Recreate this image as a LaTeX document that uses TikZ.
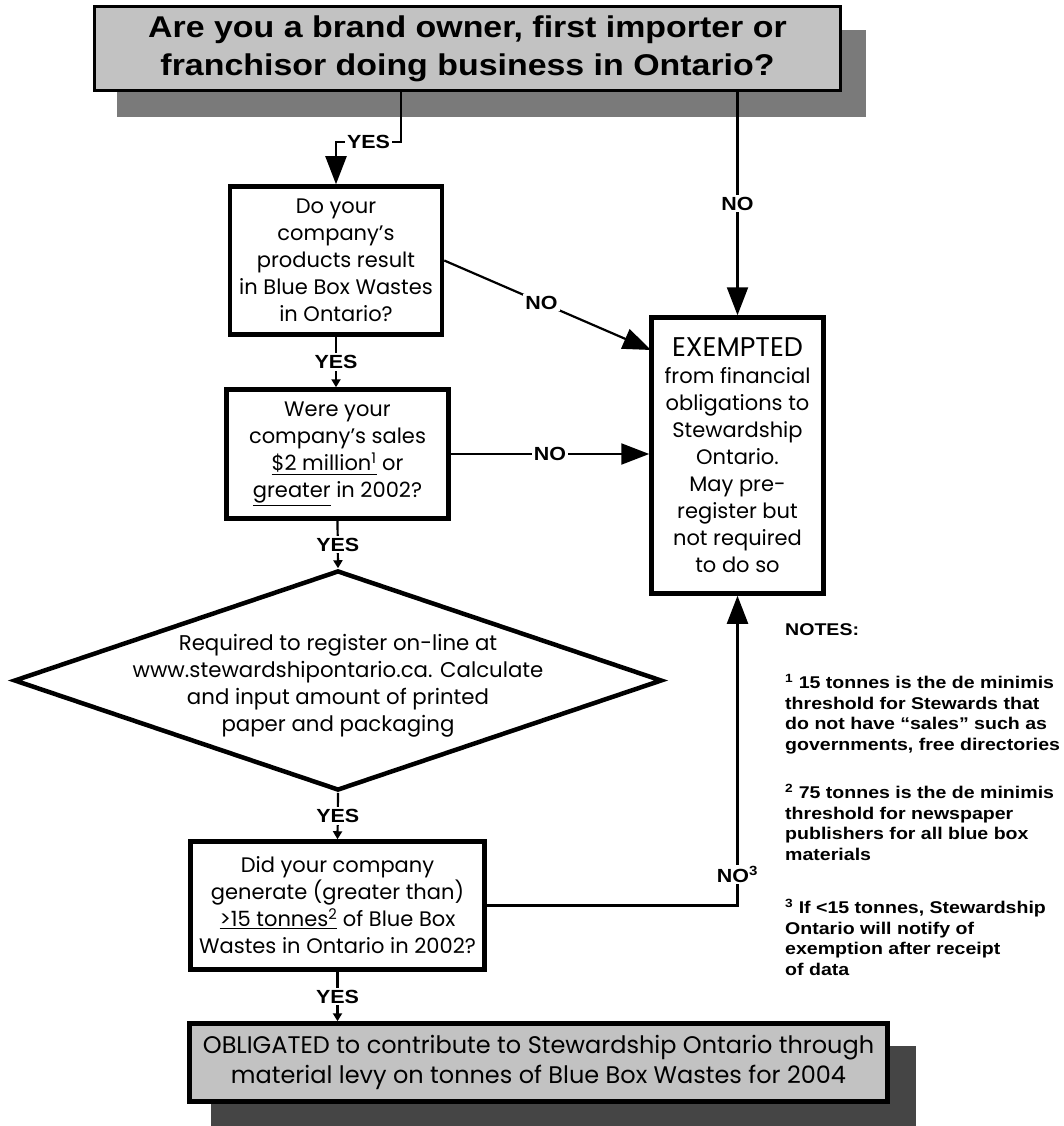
\documentclass[tikz,border=0pt]{standalone}
\usepackage{fontspec}
\usetikzlibrary{arrows.meta,shapes.geometric}
\newfontfamily\cg{Poppins}
\newfontfamily\ar{Liberation Sans}[FakeStretch=1.13]
\newfontfamily\arn{Liberation Sans}[FakeStretch=1.15]
\definecolor{boxgray}{gray}{0.76}
\definecolor{shadowA}{gray}{0.48}
\definecolor{shadowB}{gray}{0.27}
\begin{document}
\begin{tikzpicture}[x=1pt,y=-1pt,
  qbox/.style={draw, line width=4.5pt, fill=white, inner sep=0pt, align=center,
    font=\cg\fontsize{21}{27}\selectfont},
  grbox/.style={draw, fill=boxgray, inner sep=0pt, align=center},
  conn/.style={line width=2.2pt},
  arr/.style={conn, -{Triangle[length=28pt,width=21pt]}},
  stub/.style={conn, -{Triangle[length=8pt,width=9pt]}},
  lbl/.style={fill=white, inner sep=2pt, font=\ar\bfseries\fontsize{19}{20}\selectfont},
  note/.style={inner sep=0pt, anchor=north west, align=left,
    font=\arn\bfseries\fontsize{17}{20.5}\selectfont}]
\useasboundingbox (0,0) rectangle (1064,1126);
% shadows
\fill[shadowA] (117,30) rectangle (866,117);
\fill[shadowB] (211,1046) rectangle (916,1126);
% top question
\node[grbox, line width=3pt, minimum width=746pt, minimum height=84pt,
  font=\ar\bfseries\fontsize{30}{38}\selectfont] (top) at (467.5,48.5)
  {Are you a brand owner, first importer or\\franchisor doing business in Ontario?};
% question boxes
\node[qbox, minimum width=212pt, minimum height=148pt] (box1) at (336,260.5)
  {Do your\\company’s\\products result\\in Blue Box Wastes\\in Ontario?};
\node[qbox, minimum width=222pt, minimum height=129pt] (box2) at (337.5,454)
  {Were your\\company’s sales\\\underline{\$2 million\textsuperscript{1}} or\\\underline{greater} in 2002?};
\node[diamond, draw, line width=4.5pt, fill=white, inner sep=0pt,
  minimum width=648pt, minimum height=220pt] (dia) at (338,680.5) {};
\node[inner sep=0pt, align=center, font=\cg\fontsize{21.3}{27}\selectfont] (diatext) at (338,686)
  {Required to register on-line at\\www.stewardshipontario.ca. Calculate\\and input amount of printed\\paper and packaging};
\node[qbox, minimum width=294pt, minimum height=128pt] (box3) at (337.5,905.5)
  {Did your company\\generate (greater than)\\\underline{>15 tonnes\textsuperscript{2}} of Blue Box\\Wastes in Ontario in 2002?};
% exempted
\node[qbox, minimum width=172pt, minimum height=276pt] (exm) at (737.5,455.5)
  {{\fontsize{27}{30}\selectfont EXEMPTED}\\from financial\\obligations to\\Stewardship\\Ontario.\\May pre-\\register but\\not required\\to do so};
% obligated
\node[grbox, line width=4.5pt, minimum width=698pt, minimum height=78pt,
  font=\cg\fontsize{24}{30}\selectfont] (obl) at (538.5,1062.5)
  {OBLIGATED to contribute to Stewardship Ontario through\\material levy on tonnes of Blue Box Wastes for 2004};
% notes
\node[note] (nh) at (785,623) {NOTES:};
\node[note] (n1) at (785,674) {\textsuperscript{1} 15 tonnes is the de minimis\\threshold for Stewards that\\do not have “sales” such as\\governments, free directories};
\node[note] (n2) at (785,784) {\textsuperscript{2} 75 tonnes is the de minimis\\threshold for newspaper\\publishers for all blue box\\materials};
\node[note] (n3) at (785,899) {\textsuperscript{3} If <15 tonnes, Stewardship\\Ontario will notify of\\exemption after receipt\\of data};
% connectors
\coordinate (yb) at (401,142);
\coordinate (e1) at (651,350);
\draw[arr] (top.south -| yb) -- (yb) -- node[lbl]{YES} (yb -| box1.north) -- (box1.north);
\draw[arr] (top.south -| exm.north) -- node[lbl]{NO} (exm.north);
\draw[arr] (box1.east) -- node[lbl, pos=0.47]{NO} (e1);
\draw[arr] (box2.east) -- node[lbl]{NO} (exm.west |- box2.east);
\draw[arr] (box3.east) -- (exm.south |- box3.east) -- node[lbl, pos=0.1]{NO\textsuperscript{3}} (exm.south);
\draw[stub] (box1.south) -- node[lbl]{YES} (box1.south |- box2.north);
\draw[stub] (box2.south) -- node[lbl]{YES} (dia.north);
\draw[stub] (dia.south) -- node[lbl]{YES} (box3.north);
\draw[stub] (box3.south) -- node[lbl]{YES} (box3.south |- obl.north);
\end{tikzpicture}
\end{document}
